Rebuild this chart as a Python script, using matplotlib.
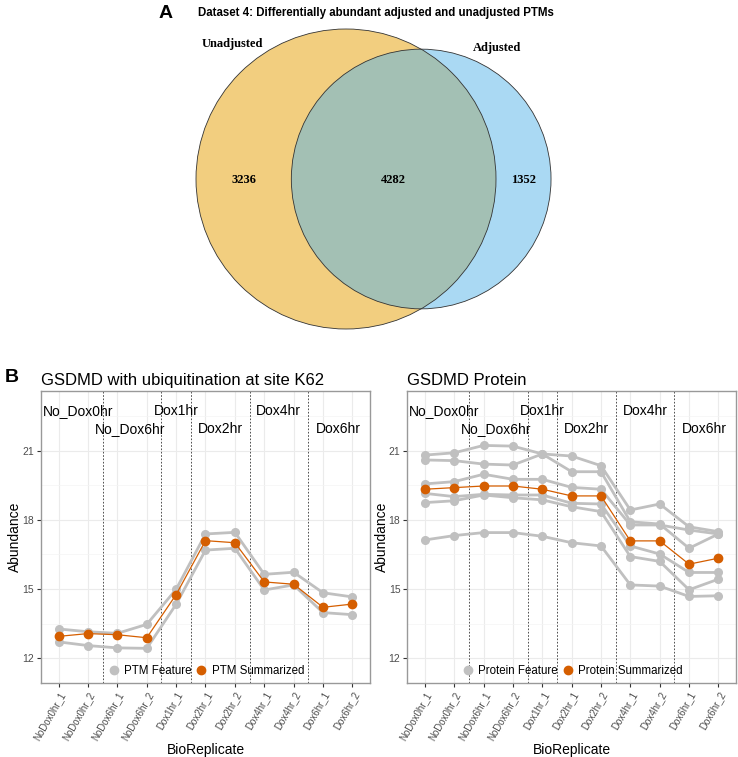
import numpy as np
import matplotlib
matplotlib.use('Agg')
from matplotlib import pyplot as plt
from matplotlib import transforms
from matplotlib.patches import Circle
from matplotlib.lines import Line2D

# ---- data ----
venn_labels = ['Unadjusted', 'Adjusted']
only_unadjusted = 3236
both = 4282
only_adjusted = 1352

runs = ['NoDox0hr_1', 'NoDox0hr_2', 'NoDox6hr_1', 'NoDox6hr_2', 'Dox1hr_1',
        'Dox2hr_1', 'Dox2hr_2', 'Dox4hr_1', 'Dox4hr_2', 'Dox6hr_1', 'Dox6hr_2']
group_names = ['No_Dox0hr', 'No_Dox6hr', 'Dox1hr', 'Dox2hr', 'Dox4hr', 'Dox6hr']
group_breaks = [1.5, 3.5, 4.5, 6.5, 8.5]

ptm_features = [
    [13.27, 13.15, 13.08, 13.47, 14.99, 17.39, 17.46, 15.64, 15.73, 14.84, 14.66],
    [12.71, 12.55, 12.45, 12.43, 14.34, 16.69, 16.77, 14.96, 15.18, 13.98, 13.89],
]
ptm_summary = [12.95, 13.07, 13.02, 12.89, 14.76, 17.10, 17.01, 15.31, 15.21, 14.21, 14.35]

protein_features = [
    [20.81, 20.91, 21.23, 21.20, 20.86, 20.77, 20.35, 18.43, 18.69, 17.70, 17.49],
    [20.60, 20.57, 20.42, 20.38, 20.86, 20.09, 20.09, 17.92, 17.82, 16.77, 17.39],
    [19.56, 19.66, 19.98, 19.76, 19.76, 19.41, 19.33, 17.78, 17.78, 17.56, 17.39],
    [19.15, 19.01, 19.11, 19.08, 19.08, 18.72, 18.69, 16.87, 16.52, 15.72, 15.72],
    [18.75, 18.83, 19.08, 18.96, 18.87, 18.57, 18.36, 16.41, 16.20, 14.97, 15.43],
    [17.13, 17.32, 17.45, 17.45, 17.29, 17.01, 16.87, 15.18, 15.13, 14.68, 14.71],
]
protein_summary = [19.33, 19.40, 19.47, 19.47, 19.33, 19.04, 19.04, 17.09, 17.09, 16.08, 16.34]

GREY = '#C0C0C0'
ORANGE = '#D55E00'
SANS = 'Liberation Sans'
SERIF = 'Liberation Serif'


def overlap_area(r1, r2, d):
    a = r1 ** 2 * np.arccos((d ** 2 + r1 ** 2 - r2 ** 2) / (2 * d * r1))
    b = r2 ** 2 * np.arccos((d ** 2 + r2 ** 2 - r1 ** 2) / (2 * d * r2))
    c = 0.5 * np.sqrt((-d + r1 + r2) * (d + r1 - r2) * (d - r1 + r2) * (d + r1 + r2))
    return a + b - c


def draw_venn(ax):
    total1 = only_unadjusted + both
    total2 = only_adjusted + both
    r1 = 150.0
    r2 = r1 * np.sqrt(total2 / total1)
    target = both / total1 * np.pi * r1 ** 2
    lo, hi = abs(r1 - r2) + 1e-6, r1 + r2 - 1e-6
    for _ in range(60):
        mid = (lo + hi) / 2
        if overlap_area(r1, r2, mid) > target:
            lo = mid
        else:
            hi = mid
    d = (lo + hi) / 2
    cx1, cy = 346.0, 179.0
    cx2 = cx1 + d
    ax.add_patch(Circle((cx1, cy), r1, facecolor='#E69F00', alpha=0.5, edgecolor='none'))
    ax.add_patch(Circle((cx2, cy), r2, facecolor='#56B4E9', alpha=0.5, edgecolor='none'))
    ax.add_patch(Circle((cx1, cy), r1, facecolor='none', edgecolor='#333333', lw=0.6))
    ax.add_patch(Circle((cx2, cy), r2, facecolor='none', edgecolor='#333333', lw=0.6))
    kw = dict(family=SERIF, weight='bold', fontsize=9, ha='center', va='center')
    ax.text((cx1 - r1 + cx2 - r2) / 2, cy + 1, str(only_unadjusted), **kw)
    ax.text((cx2 - r2 + cx1 + r1) / 2, cy + 1, str(both), **kw)
    ax.text((cx1 + r1 + cx2 + r2) / 2, cy + 1, str(only_adjusted), **kw)
    ax.text(232, 44, venn_labels[0], **kw)
    ax.text(497, 48, venn_labels[1], **kw)


def draw_profile(ax, features, summary, title, legend_names):
    x = np.arange(len(runs))
    ax.set_xlim(-0.6, len(runs) - 1 + 0.6)
    ax.set_ylim(10.94, 23.59)
    ax.set_yticks([12, 15, 18, 21])
    ax.set_yticks([13.5, 16.5, 19.5, 22.5], minor=True)
    ax.set_xticks(x)
    ax.set_xticklabels(runs, rotation=60, ha='right', va='top', rotation_mode='anchor',
                       fontsize=7, color='#4D4D4D', family=SANS)
    shift = transforms.ScaledTranslation(5 / 100, 0, ax.figure.dpi_scale_trans)
    for lab in ax.get_xticklabels():
        lab.set_transform(lab.get_transform() + shift)
    for lab in ax.get_yticklabels():
        lab.set_fontsize(7.5)
        lab.set_color('#4D4D4D')
        lab.set_family(SANS)
    ax.grid(True, which='major', color='#EBEBEB', lw=0.8, zorder=0)
    ax.grid(True, which='minor', axis='y', color='#F4F4F4', lw=0.5, zorder=0)
    ax.tick_params(axis='both', which='major', length=3, color='#333333', pad=2)
    ax.tick_params(axis='both', which='minor', length=0)
    for sp in ax.spines.values():
        sp.set_color('#999999')
        sp.set_linewidth(1.0)
    ax.set_axisbelow(True)

    for b in group_breaks:
        ax.axvline(b, color='#333333', ls=(0, (2, 2)), lw=0.6, zorder=1)

    label_x = [-0.55, 1.24, 3.23, 4.74, 6.73, 8.75]
    for i, name in enumerate(group_names):
        y = 22.72 if i % 2 == 0 else 21.93
        ax.text(label_x[i], y, name, ha='left', va='center', fontsize=10,
                family=SANS, color='black', zorder=4)

    for f in features:
        ax.plot(x, f, color=GREY, lw=2.0, marker='o', ms=5.5, zorder=2)
    ax.plot(x, summary, color=ORANGE, lw=0.9, marker='o', ms=6, zorder=3)

    ax.set_title(title, loc='left', fontsize=12, family=SANS, pad=4)
    ax.set_xlabel('BioReplicate', fontsize=10, family=SANS, labelpad=1)
    ax.set_ylabel('Abundance', fontsize=10, family=SANS, labelpad=0)

    handles = [
        Line2D([], [], ls='none', marker='o', ms=6, color=GREY),
        Line2D([], [], ls='none', marker='o', ms=6, color=ORANGE),
    ]
    ax.legend(handles, legend_names, loc='lower center', bbox_to_anchor=(0.5, -0.015),
              ncol=2, frameon=False, handlelength=1.2, handletextpad=0.3,
              columnspacing=0.25, prop={'family': SANS, 'size': 8.3})


fig = plt.figure(figsize=(7.38, 7.57), dpi=100)

ax_venn = fig.add_axes([0, 0, 1, 1])
ax_venn.set_xlim(0, 738)
ax_venn.set_ylim(757, 0)
ax_venn.axis('off')
draw_venn(ax_venn)
ax_venn.text(166, 13, 'A', family=SANS, weight='bold', fontsize=14, ha='center', va='center')
ax_venn.text(198, 13, 'Dataset 4: Differentially abundant adjusted and unadjusted PTMs',
             family=SANS, weight='bold', fontsize=8.3, ha='left', va='center')
ax_venn.text(12, 378, 'B', family=SANS, weight='bold', fontsize=14, ha='center', va='center')

W, H = 738.0, 757.0
ax1 = fig.add_axes([41 / W, (H - 682.7) / H, 329 / W, 291.7 / H])
ax2 = fig.add_axes([407.3 / W, (H - 682.7) / H, 328.7 / W, 291.7 / H])

draw_profile(ax1, ptm_features, ptm_summary, 'GSDMD with ubiquitination at site K62',
             ['PTM Feature', 'PTM Summarized'])
draw_profile(ax2, protein_features, protein_summary, 'GSDMD Protein',
             ['Protein Feature', 'Protein Summarized'])

fig.savefig('out.png', dpi=100)
